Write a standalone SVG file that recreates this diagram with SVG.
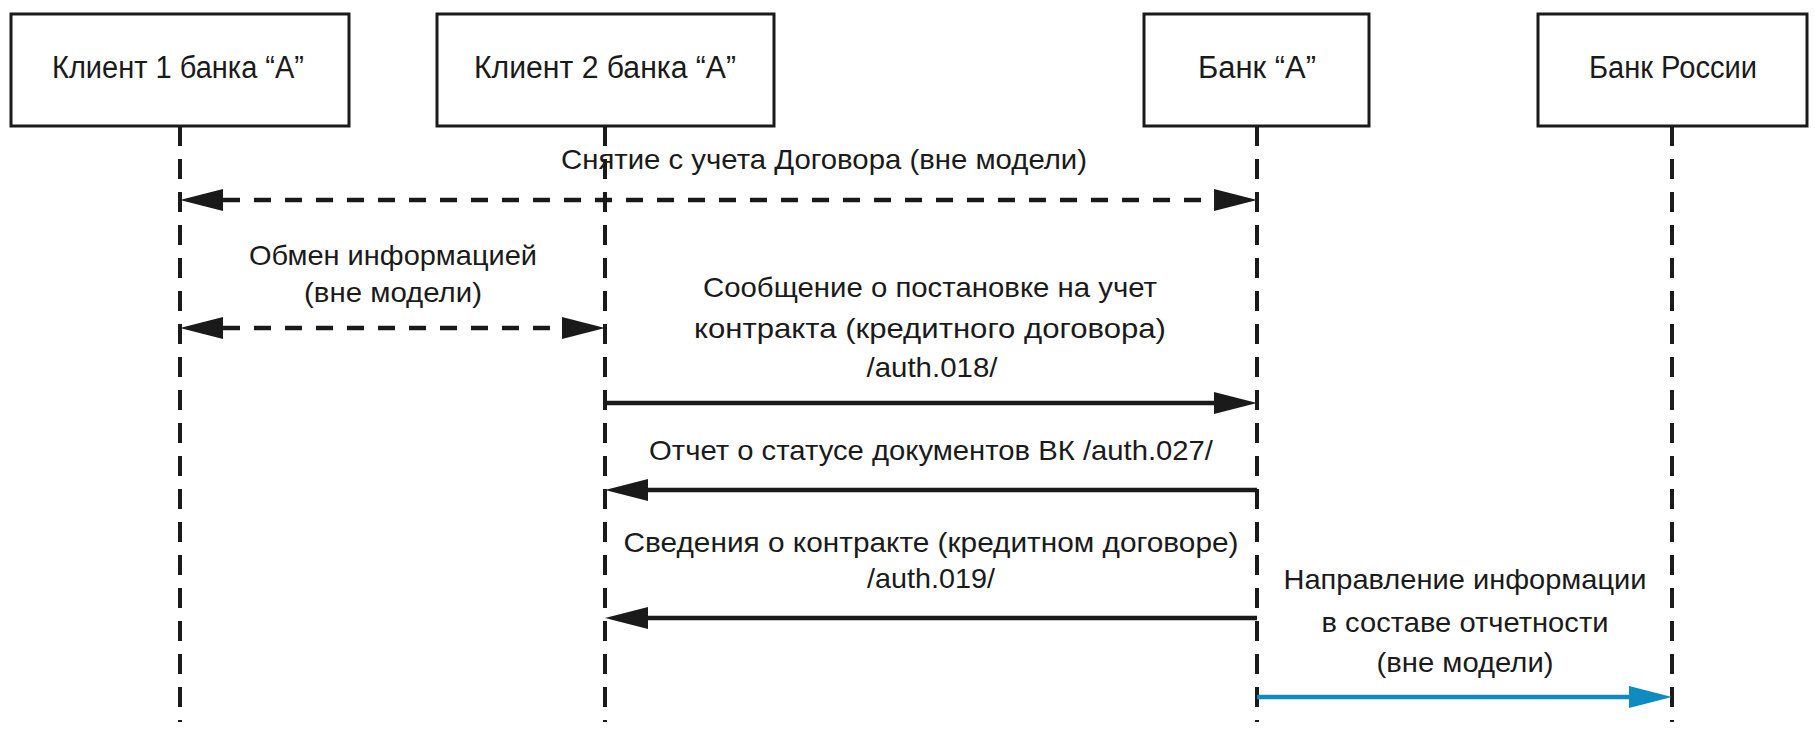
<svg xmlns="http://www.w3.org/2000/svg" width="1815" height="736" viewBox="0 0 1815 736">
<style>
.box{fill:#fff;stroke:#1a1a1a;stroke-width:3}
.life{stroke:#1a1a1a;stroke-width:4;stroke-dasharray:20 13;fill:none}
.msg{stroke:#1a1a1a;stroke-width:4.5;fill:none}
.dash{stroke-dasharray:17 14}
.blue{stroke:#0f8bc0}
.t{font-family:"Liberation Sans",Arial,sans-serif;font-size:28px;fill:#1a1a1a;text-anchor:middle}
.tb{font-size:31px}
</style>
<defs>
<marker id="ah" markerUnits="userSpaceOnUse" markerWidth="44" markerHeight="24" viewBox="0 0 44 24" refX="0" refY="12" orient="auto-start-reverse"><path d="M0,1 L43,12 L0,23 z" fill="#1a1a1a"/></marker>
<marker id="ahb" markerUnits="userSpaceOnUse" markerWidth="44" markerHeight="24" viewBox="0 0 44 24" refX="0" refY="12" orient="auto"><path d="M0,1 L43,12 L0,23 z" fill="#0f8bc0"/></marker>
</defs>
<g id="lifelines">
<line class="life" x1="180" y1="126" x2="180" y2="722"/>
<line class="life" x1="605" y1="126" x2="605" y2="722"/>
<line class="life" x1="1257" y1="126" x2="1257" y2="722"/>
<line class="life" x1="1672" y1="126" x2="1672" y2="722"/>
</g>
<g id="n1"><rect class="box" x="11" y="14" width="338" height="112"/><text class="t tb" x="178" y="78" textLength="252" lengthAdjust="spacingAndGlyphs">Клиент 1 банка “А”</text></g>
<g id="n2"><rect class="box" x="437" y="14" width="337" height="112"/><text class="t tb" x="605" y="78" textLength="262" lengthAdjust="spacingAndGlyphs">Клиент 2 банка “А”</text></g>
<g id="n3"><rect class="box" x="1144" y="14" width="225" height="112"/><text class="t tb" x="1257" y="78" textLength="118" lengthAdjust="spacingAndGlyphs">Банк “А”</text></g>
<g id="n4"><rect class="box" x="1538" y="14" width="269" height="112"/><text class="t tb" x="1673" y="78" textLength="168" lengthAdjust="spacingAndGlyphs">Банк России</text></g>
<g id="connectors">
<line class="msg dash" x1="223" y1="200" x2="1214" y2="200" marker-start="url(#ah)" marker-end="url(#ah)"/>
<line class="msg dash" x1="223" y1="328" x2="562" y2="328" marker-start="url(#ah)" marker-end="url(#ah)"/>
<line class="msg" x1="605" y1="403" x2="1214" y2="403" marker-end="url(#ah)"/>
<line class="msg" x1="1257" y1="490" x2="648" y2="490" marker-end="url(#ah)"/>
<line class="msg" x1="1257" y1="618" x2="648" y2="618" marker-end="url(#ah)"/>
<line class="msg blue" x1="1257" y1="697" x2="1629" y2="697" marker-end="url(#ahb)"/>
</g>
<g id="labels">
<text class="t" x="824" y="169" textLength="526" lengthAdjust="spacingAndGlyphs">Снятие с учета Договора (вне модели)</text>
<text class="t" x="393" y="265" textLength="288" lengthAdjust="spacingAndGlyphs">Обмен информацией</text>
<text class="t" x="393" y="302" textLength="178" lengthAdjust="spacingAndGlyphs">(вне модели)</text>
<text class="t" x="930" y="297" textLength="454" lengthAdjust="spacingAndGlyphs">Сообщение о постановке на учет</text>
<text class="t" x="930" y="338" textLength="472" lengthAdjust="spacingAndGlyphs">контракта (кредитного договора)</text>
<text class="t" x="932" y="377" textLength="131" lengthAdjust="spacingAndGlyphs">/auth.018/</text>
<text class="t" x="931" y="460" textLength="564" lengthAdjust="spacingAndGlyphs">Отчет о статусе документов ВК /auth.027/</text>
<text class="t" x="931" y="552" textLength="615" lengthAdjust="spacingAndGlyphs">Сведения о контракте (кредитном договоре)</text>
<text class="t" x="931" y="588" textLength="128" lengthAdjust="spacingAndGlyphs">/auth.019/</text>
<text class="t" x="1465" y="589" textLength="363" lengthAdjust="spacingAndGlyphs">Направление информации</text>
<text class="t" x="1465" y="632" textLength="287" lengthAdjust="spacingAndGlyphs">в составе отчетности</text>
<text class="t" x="1465" y="672" textLength="177" lengthAdjust="spacingAndGlyphs">(вне модели)</text>
</g>
</svg>
